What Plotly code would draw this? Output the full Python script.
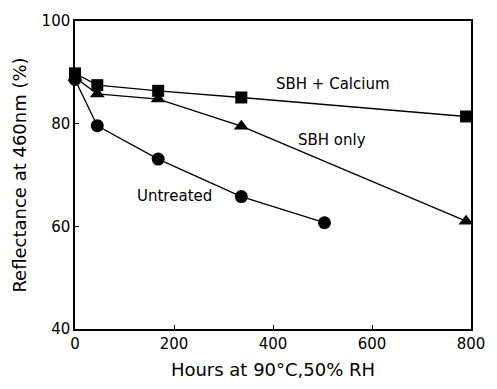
import plotly.graph_objects as go

hours_cal = [0, 45, 168, 336, 790]
sbh_calcium = [89.8, 87.5, 86.4, 85.1, 81.4]
hours_sbh = [0, 45, 168, 336, 790]
sbh_only = [89.0, 85.8, 84.8, 79.5, 61.0]
hours_unt = [0, 45, 168, 336, 504]
untreated = [88.6, 79.6, 73.1, 65.8, 60.7]

font = "DejaVu Sans, Verdana, sans-serif"
fig = go.Figure()
fig.add_trace(go.Scatter(x=hours_cal, y=sbh_calcium, mode="lines+markers",
                         line=dict(color="black", width=1.3),
                         marker=dict(symbol="square", size=12, color="black"),
                         cliponaxis=False, name="SBH + Calcium"))
fig.add_trace(go.Scatter(x=hours_sbh, y=sbh_only, mode="lines+markers",
                         line=dict(color="black", width=1.3),
                         marker=dict(symbol="triangle-up", size=13, color="black"),
                         cliponaxis=False, name="SBH only"))
fig.add_trace(go.Scatter(x=hours_unt, y=untreated, mode="lines+markers",
                         line=dict(color="black", width=1.3),
                         marker=dict(symbol="circle", size=13, color="black"),
                         cliponaxis=False, name="Untreated"))

labels = [("SBH + Calcium", 522, 87.7), ("SBH only", 520, 76.8), ("Untreated", 200, 66.0)]
for t, x, y in labels:
    fig.add_annotation(x=x, y=y, text=t, showarrow=False,
                       font=dict(family=font, size=15, color="black"))

fig.update_layout(
    width=497, height=389,
    margin=dict(l=75, r=15, t=18, b=57),
    paper_bgcolor="white", plot_bgcolor="white",
    showlegend=False,
    font=dict(family=font, size=15, color="black"),
    xaxis=dict(range=[0, 800], tickvals=[0, 200, 400, 600, 800],
               showgrid=False, zeroline=False, showline=True, linecolor="black",
               linewidth=1.5, mirror=True, ticks="inside", ticklen=4,
               tickcolor="black",
               title=dict(text="Hours at 90°C,50% RH", standoff=12)),
    yaxis=dict(range=[40, 100], tickvals=[40, 60, 80, 100],
               showgrid=False, zeroline=False, showline=True, linecolor="black",
               linewidth=1.5, mirror=True, ticks="inside", ticklen=4,
               tickcolor="black",
               title=dict(text="Reflectance at 460nm (%)", standoff=10)),
)
fig.write_html("out.html")
